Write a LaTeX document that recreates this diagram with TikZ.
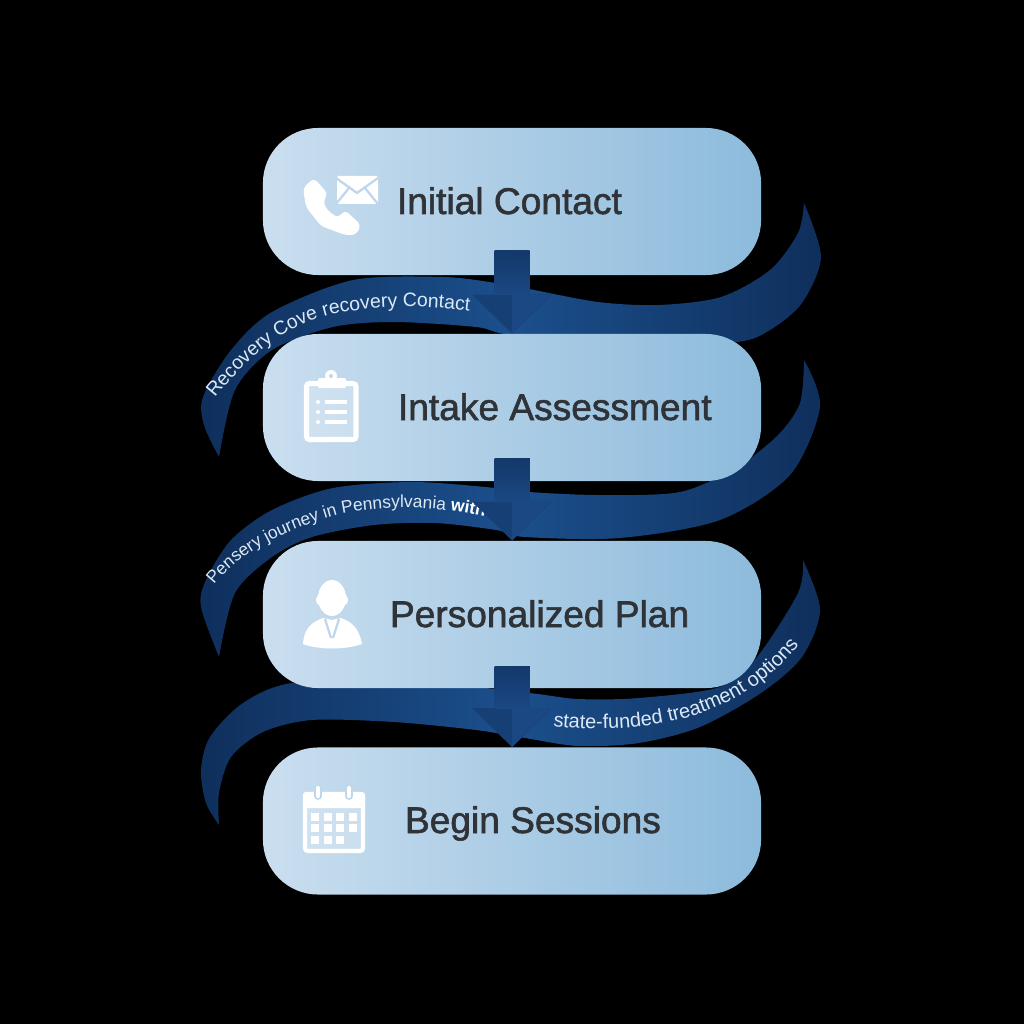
\documentclass[tikz,border=0pt]{standalone}
\usepackage{fontspec}
\usepackage{tikz}
\usetikzlibrary{arrows.meta,decorations.text}
\setmainfont{Liberation Sans}
\newfontfamily\labelfont[FakeBold=1.6]{Liberation Sans}
\definecolor{boxleft}{HTML}{CADEEF}
\definecolor{boxright}{HTML}{8DBBDC}
\definecolor{iconback}{HTML}{C0D7EB}
\definecolor{ribbonend}{HTML}{0F2F5C}
\definecolor{ribbonmid}{HTML}{1B4F8C}
\definecolor{ribbontext}{HTML}{DCE9F5}
\definecolor{labeltext}{HTML}{2F3338}
\definecolor{arrowdark}{HTML}{14396B}
\definecolor{arrowmid}{HTML}{163F75}
\definecolor{arrowlight}{HTML}{1B4783}
\newcommand{\ribbonfont}{\fontsize{13.8}{15}\selectfont\color{ribbontext}}
\newcommand{\ribbonlarge}{\fontsize{14.2}{15}\selectfont\color{ribbontext}}
\newcommand{\ribbonsmall}{\fontsize{12.4}{15}\selectfont\color{ribbontext}}
\newcommand{\ribbonwith}{\fontsize{12.4}{15}\selectfont\bfseries\color{white}}
\tikzset{
	stepbox/.style={left color=boxleft,right color=boxright,minimum width=12.45cm,minimum height=3.675cm,rounded corners=1.375cm,inner sep=0pt},
	steplabel/.style={anchor=base west,text=labeltext,font=\labelfont\fontsize{26.4}{30}\selectfont},
	ribbon/.style={left color=ribbonend,right color=ribbonend,middle color=ribbonmid},
	ribbonline/.style={decorate,decoration={text along path,text={#1}}},
	flow/.style={draw=arrowmid,line width=0.875cm,-{Triangle[length=0.975cm,width=1.925cm]}},
	icon/.style={fill=white,draw=none},
	iconline/.style={draw=iconback,line width=1.6pt}
}
\begin{document}
\begin{tikzpicture}[x=0.025cm,y=-0.025cm]
	\useasboundingbox (0,0) rectangle (1024,1024);
	\fill[black] (0,0) rectangle (1024,1024);
	% ribbons behind the boxes
	\fill[ribbon] plot[smooth] coordinates {(219,457) (204,425) (203,397) (231,350) (272,312) (353,280) (443,277) (496,283) (529,289) (598,302) (659,305) (721,297) (770,270) (798,233) (804,203)}
		-- plot[smooth] coordinates {(804,203) (821,257) (802,303) (770,330) (737,342) (640,345) (512,335) (476,327) (394,322) (333,327) (272,350) (235,390) (219,457)} -- cycle;
	\fill[ribbon] plot[smooth] coordinates {(219,657) (201,607) (206,580) (231,540) (272,510) (333,488) (414,482) (496,488) (529,492) (598,495) (680,492) (737,467) (778,435) (800,403) (804,360)}
		-- plot[smooth] coordinates {(804,360) (820,407) (790,475) (720,520) (620,538) (525,537) (496,530) (435,523) (374,525) (312,537) (272,557) (235,593) (219,657)} -- cycle;
	\fill[ribbon] plot[smooth] coordinates {(219,825) (206,803) (201,770) (210,737) (243,703) (292,683) (400,680) (529,693) (578,699) (639,698) (720,687) (757,657) (798,593) (803,560)}
		-- plot[smooth] coordinates {(803,560) (820,610) (802,657) (761,693) (700,727) (639,743) (578,746) (525,738) (476,730) (394,722) (312,720) (263,732) (231,757) (219,793) (219,825)} -- cycle;
	% boxes
	\node[stepbox] (contact) at (512,201.5) {};
	\node[stepbox] (intake) at (512,407.5) {};
	\node[stepbox] (plan) at (512,614.5) {};
	\node[stepbox] (begin) at (512,821) {};
	\node[steplabel] (contactlabel) at (392,214) {Initial Contact};
	\node[steplabel] (intakelabel) at (393,420) {Intake Assessment};
	\node[steplabel] (planlabel) at (385,627) {Personalized Plan};
	\node[steplabel] (beginlabel) at (400,833) {Begin Sessions};
	% ribbon texts
	\path[ribbonline={|\ribbonfont|Recovery Cove recovery Contact}]
		(215,398) .. controls (240,367) and (275,329) .. (330,315) .. controls (385,304) and (430,305) .. (485,313);
	\path[ribbonline={|\ribbonsmall|Pensery journey in Pennsylvania |\ribbonwith|with}]
		(214,585) .. controls (240,552) and (285,529) .. (341,514) .. controls (390,504) and (440,506) .. (500,520);
	\path[ribbonline={|\ribbonlarge|state-funded treatment options}]
		(553,726) .. controls (600,732) and (672,730) .. (727,702) .. controls (765,684) and (795,655) .. (820,615);
	% arrows
	\coordinate (contactout) at (512,251);
	\coordinate (intakeout) at (512,458);
	\coordinate (planout) at (512,666);
	\foreach \a/\b in {contactout/intake,intakeout/plan,planout/begin}{
		\draw[flow] (\a) -- (\b.north);
		\shade[top color=arrowdark,bottom color=arrowlight] ([xshift=-0.4375cm]\a) rectangle ([xshift=0.4375cm,yshift=0.975cm]\b.north);
		\fill[arrowlight] (\b.north) -- ++(0,-39) -- ++(39,0) -- cycle;
	}
	% phone and envelope
	\fill[icon,rounded corners=3] (314,178) -- (328,194) -- (323,201) -- (327,210) -- (338,218) -- (345,210) -- (361,225) -- (356,235) -- (345,235) -- (321,226) -- (306,207) -- (303,188) -- cycle;
	\fill[icon,rounded corners=1] (337,176) rectangle (378,204);
	\draw[iconline] (336,178) -- (357,193) -- (378,178);
	\draw[iconline] (336,204) -- (349,188);
	\draw[iconline] (378,204) -- (365,188);
	% clipboard
	\fill[white,opacity=0.2] (306,383) rectangle (356,440);
	\draw[white,line width=3.6pt,rounded corners=2] (306.5,383.5) rectangle (356,439.5);
	\fill[icon,rounded corners=1] (318,378) rectangle (346,388);
	\fill[icon] (331,376) circle (6);
	\fill[iconback] (331,376) circle (2);
	\foreach \y in {402,412,422}{
		\fill[icon] (318,\y) circle (2);
		\draw[white,line width=2.4pt] (325,\y) -- (347,\y);
	}
	% person
	\fill[icon] (332,598) ellipse (14 and 18);
	\fill[icon] (319,600) ellipse (3 and 5);
	\fill[icon] (345,600) ellipse (3 and 5);
	\fill[icon] (323,618) -- (332,620) -- (341,618) .. controls (352,622) and (359,628) .. (362,644) .. controls (345,650) and (319,650) .. (303,644) .. controls (304,628) and (312,622) .. (323,618) -- cycle;
	\draw[iconline] (325,619) -- (331,638);
	\draw[iconline] (339,619) -- (333,638);
	\fill[icon] (329,621) -- (335,621) -- (334,625) -- (330,625) -- cycle;
	% calendar
	\fill[white,opacity=0.2] (305,806) rectangle (363,851);
	\draw[white,line width=3pt,rounded corners=2] (305,794) rectangle (363,851);
	\fill[icon,rounded corners=2] (303,792) rectangle (365,808);
	\foreach \x in {318,349}{
		\draw[iconback,line width=5.5pt,line cap=round] (\x,789) -- (\x,796);
		\draw[white,line width=3pt,line cap=round] (\x,788) -- (\x,796);
	}
	\foreach \x/\y in {315/817,328/817,340/817,353/817,315/828,328/828,340/828,353/828,315/840,328/840,340/840}{
		\fill[icon] (\x-4,\y-4) rectangle (\x+4,\y+4);
	}
\end{tikzpicture}
\end{document}
